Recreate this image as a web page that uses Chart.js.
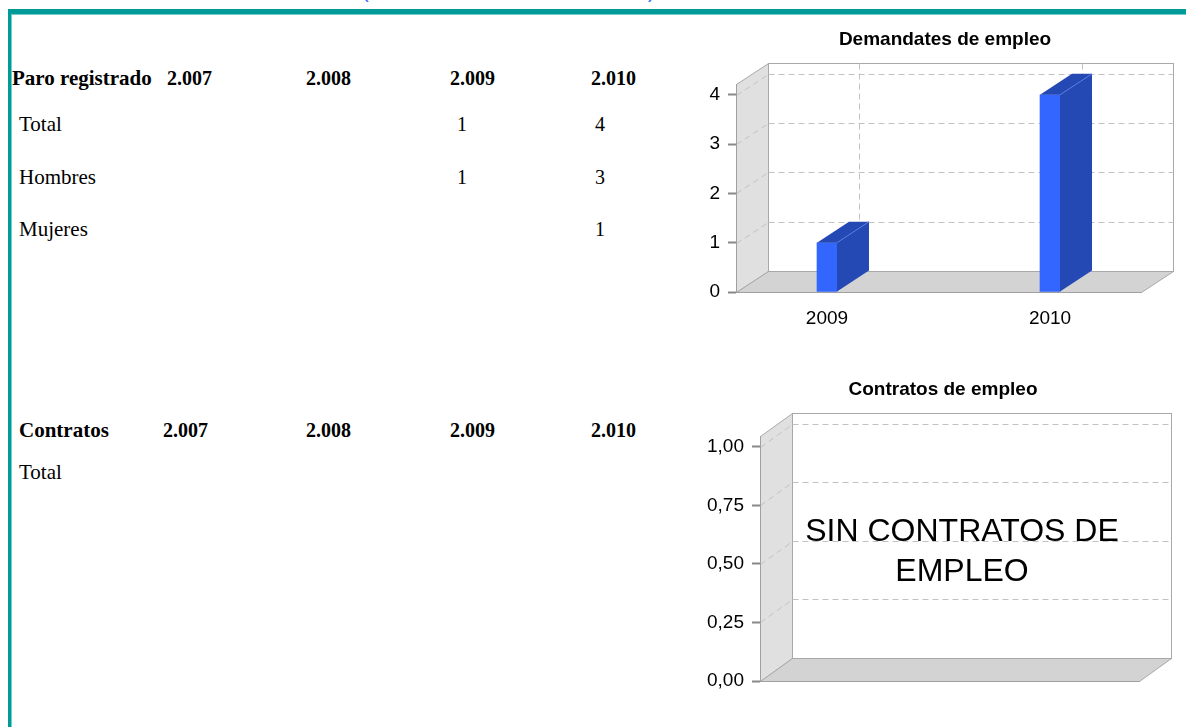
<!DOCTYPE html>
<html>
<head>
<meta charset="utf-8">
<script src="https://cdn.jsdelivr.net/npm/chart.js@4.4.1/dist/chart.umd.min.js"></script>
<style>
  body { margin: 0; background: #fff; width: 1186px; height: 727px; overflow: hidden; position: relative; }
  #marco { position: absolute; left: 8px; top: 9px; right: -20px; bottom: -20px;
           border-top: 5px solid #009b98; border-left: 3px solid #009b98;
           box-shadow: inset 1px 1px 0 #72cdc8; }
  .t { position: absolute; font-family: "Liberation Serif", "Times New Roman", serif; font-size: 21px;
       line-height: 24px; white-space: nowrap; color: #000; }
  .n { font-size: 20px; }
  .b { font-weight: bold; }
  .par { position: absolute; top: -20px; font-family: Arial, "Liberation Sans", sans-serif; font-size: 20px; color: #3366ff; }
  canvas { position: absolute; }
  #sin { position: absolute; left: 792px; top: 510px; width: 340px; text-align: center;
         font-family: Arial, "Liberation Sans", sans-serif; font-size: 32px; line-height: 40px; color: #000; }
</style>
</head>
<body>
<div id="marco"></div>
<span class="par" style="left:362px">(</span>
<span class="par" style="left:648px">)</span>
<div id="tabla"></div>
<canvas id="demandantes" width="496" height="320" style="left:690px;top:20px"></canvas>
<canvas id="contratos" width="486" height="340" style="left:700px;top:370px"></canvas>
<div id="sin">SIN CONTRATOS DE EMPLEO</div>
<script>
// datos de la tabla
var anios = ['2.007', '2.008', '2.009', '2.010'];
var paroTotal = [null, null, 1, 4];
var paroHombres = [null, null, 1, 3];
var paroMujeres = [null, null, null, 1];
var contratosTotal = [null, null, null, null];

// datos de los graficos
var demandantesLabels = ['2009', '2010'];
var demandantesValores = [1, 4];
var contratosLabels = [];
var contratosValores = [];

// tabla (posiciones de columnas)
var tabla = document.getElementById('tabla');
var colX = [167, 306, 450, 591];
var valX = [180, 319, 462, 600];

function texto(txt, x, y, clase, center) {
    var d = document.createElement('div');
    d.className = 't ' + clase;
    d.textContent = txt;
    d.style.left = x + 'px';
    d.style.top = (y - 12) + 'px';
    if (center) d.style.transform = 'translateX(-50%)';
    tabla.appendChild(d);
}

texto('Paro registrado', 12, 78, 'b');
for (var i = 0; i < anios.length; i++) texto(anios[i], colX[i], 78, 'b n');
var filas = [['Total', paroTotal, 124], ['Hombres', paroHombres, 177], ['Mujeres', paroMujeres, 229]];
filas.forEach(function (f) {
    texto(f[0], 19, f[2], '');
    for (var j = 0; j < f[1].length; j++) {
        if (f[1][j] !== null) texto(String(f[1][j]), valX[j], f[2], 'n', true);
    }
});
texto('Contratos', 19, 430, 'b');
var colX2 = [163, 306, 450, 591];
for (var i = 0; i < anios.length; i++) texto(anios[i], colX2[i], 430, 'b n');
texto('Total', 19, 472, '');
for (var j = 0; j < contratosTotal.length; j++) {
    if (contratosTotal[j] !== null) texto(String(contratosTotal[j]), valX[j], 472, 'n', true);
}

Chart.defaults.font.family = 'Arial, "Liberation Sans", sans-serif';
Chart.defaults.color = '#000';

function poly(ctx, pts) {
    ctx.beginPath();
    ctx.moveTo(pts[0][0], pts[0][1]);
    for (var i = 1; i < pts.length; i++) ctx.lineTo(pts[i][0], pts[i][1]);
    ctx.closePath();
}
function linea(ctx, x1, y1, x2, y2) {
    ctx.beginPath();
    ctx.moveTo(x1, y1);
    ctx.lineTo(x2, y2);
    ctx.stroke();
}

// paredes 3D, rejilla, titulo y caras laterales de las barras
function plugin3d(dx, dy, rejillaX, titulo, tx, ty) {
    return {
        id: 'tresd',
        beforeDraw: function (chart) {
            var ctx = chart.ctx, a = chart.chartArea;
            var L = Math.round(a.left) + 0.5, R = Math.round(a.right) + 0.5;
            var T = Math.round(a.top) + 0.5, B = Math.round(a.bottom) + 0.5;
            ctx.save();
            ctx.lineWidth = 1;
            ctx.strokeStyle = '#a8a8a8';
            ctx.fillStyle = '#e0e0e0';
            poly(ctx, [[L, B], [L, T], [L + dx, T + dy], [L + dx, B + dy]]);
            ctx.fill(); ctx.stroke();
            ctx.fillStyle = '#d3d3d3';
            poly(ctx, [[L, B], [R, B], [R + dx, B + dy], [L + dx, B + dy]]);
            ctx.fill(); ctx.stroke();
            ctx.fillStyle = '#fff';
            ctx.fillRect(L + dx, T + dy, R - L, B - T);
            ctx.strokeRect(L + dx, T + dy, R - L, B - T);

            ctx.setLineDash([6, 4]);
            ctx.strokeStyle = '#c2c2c2';
            var ys = chart.scales.y;
            ys.ticks.forEach(function (t) {
                if (t.value === 0) return;
                var py = Math.round(ys.getPixelForValue(t.value)) + 0.5;
                linea(ctx, L + dx, py + dy, R + dx, py + dy);
                linea(ctx, L, py, L + dx, py + dy);
            });
            if (rejillaX) {
                var xs = chart.scales.x;
                xs.ticks.forEach(function (t) {
                    var px = Math.round(xs.getPixelForValue(t.value)) + 0.5;
                    linea(ctx, px + dx, T + dy, px + dx, B + dy);
                });
            }
            ctx.setLineDash([]);
            ctx.fillStyle = '#000';
            ctx.font = 'bold 19px Arial, "Liberation Sans", sans-serif';
            ctx.textAlign = 'center';
            ctx.textBaseline = 'alphabetic';
            ctx.fillText(titulo, tx, ty);
            ctx.restore();
        },
        afterDatasetsDraw: function (chart) {
            var ctx = chart.ctx;
            ctx.save();
            chart.getDatasetMeta(0).data.forEach(function (bar) {
                var p = bar.getProps(['x', 'y', 'base', 'width'], true);
                var l = p.x - p.width / 2, r = p.x + p.width / 2;
                ctx.fillStyle = '#2448b4';
                poly(ctx, [[r, p.y], [r + dx, p.y + dy], [r + dx, p.base + dy], [r, p.base]]);
                ctx.fill();
                poly(ctx, [[l, p.y], [l + dx, p.y + dy], [r + dx, p.y + dy], [r, p.y]]);
                ctx.fill();
                ctx.strokeStyle = '#5577dd';
                ctx.lineWidth = 1;
                linea(ctx, r, p.y, r + dx, p.y + dy);
            });
            ctx.restore();
        }
    };
}

function opciones(padArriba, padDer, yOpts, xOpts, anchoY) {
    return {
        responsive: false,
        animation: false,
        layout: { padding: { top: padArriba, right: padDer } },
        plugins: {
            legend: { display: false },
            tooltip: { enabled: false },
            title: { display: false }
        },
        scales: {
            x: xOpts,
            y: Object.assign({
                afterFit: function (s) { s.width = anchoY; },
                grid: { drawOnChartArea: false, drawTicks: true, tickLength: 8, tickColor: '#888', tickWidth: 2 },
                border: { color: '#a0a0a0', width: 1 }
            }, yOpts)
        }
    };
}

var datosDem = demandantesValores.map(function (v, i) { return { x: i, y: v }; });

new Chart(document.getElementById('demandantes'), {
    type: 'bar',
    data: {
        datasets: [{
            data: datosDem,
            backgroundColor: '#3366ff',
            borderWidth: 0,
            barThickness: 20
        }]
    },
    options: opciones(64, 45, {
        min: 0, max: 4.22,
        ticks: { stepSize: 1, includeBounds: false, padding: 8, font: { size: 19 } }
    }, {
        type: 'linear', min: -0.408, max: 1.408, offset: false,
        afterBuildTicks: function (s) { s.ticks = demandantesLabels.map(function (l, i) { return { value: i }; }); },
        afterFit: function (s) { s.height = 48; },
        ticks: {
            padding: 15, font: { size: 19 },
            callback: function (v) { return demandantesLabels[v]; }
        },
        grid: { drawOnChartArea: false, drawTicks: false },
        border: { color: '#a0a0a0', width: 1 }
    }, 46),
    plugins: [plugin3d(32, -21, true, 'Demandates de empleo', 945 - 690, 44.5 - 20)]
});

var datosCon = contratosValores.map(function (v, i) { return { x: i, y: v }; });

new Chart(document.getElementById('contratos'), {
    type: 'bar',
    data: {
        labels: contratosLabels,
        datasets: [{
            data: datosCon,
            backgroundColor: '#3366ff',
            borderWidth: 0,
            barThickness: 20
        }]
    },
    options: opciones(66, 47, {
        min: 0, max: 1.047,
        ticks: {
            stepSize: 0.25, includeBounds: false, padding: 8, font: { size: 19 },
            callback: function (v) { return v.toFixed(2).replace('.', ','); }
        }
    }, {
        type: 'linear', min: 0, max: 1, offset: false,
        afterFit: function (s) { s.height = 29; },
        ticks: { display: false },
        grid: { drawOnChartArea: false, drawTicks: false },
        border: { color: '#a0a0a0', width: 1 }
    }, 60),
    plugins: [plugin3d(32, -23, false, 'Contratos de empleo', 943 - 700, 395 - 370)]
});
</script>
</body>
</html>
